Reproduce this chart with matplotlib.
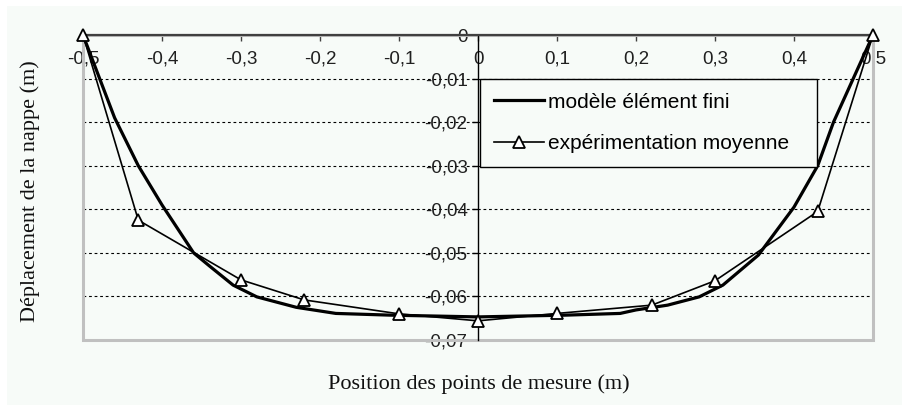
import matplotlib
matplotlib.use("Agg")
import matplotlib.pyplot as plt
from matplotlib.patches import Rectangle
from matplotlib.ticker import FuncFormatter, MultipleLocator

# ---- data ----
fe_x = [-0.5, -0.48, -0.46, -0.43, -0.40, -0.36, -0.34, -0.31, -0.28, -0.23, -0.18,
        -0.11, 0.0, 0.11, 0.18, 0.20, 0.24, 0.28, 0.31, 0.355, 0.40, 0.43, 0.45, 0.475, 0.5]
fe_y = [0.0, -0.0095, -0.019, -0.030, -0.039, -0.050, -0.053, -0.0574, -0.0601, -0.0625,
        -0.0639, -0.0643, -0.0647, -0.0643, -0.0639, -0.0631, -0.0620, -0.0601, -0.0574,
        -0.0505, -0.0395, -0.030, -0.020, -0.010, 0.0]

exp_x = [-0.5, -0.43, -0.30, -0.22, -0.10, 0.0, 0.10, 0.22, 0.30, 0.43, 0.5]
exp_y = [0.0, -0.0425, -0.0562, -0.0608, -0.0640, -0.0656, -0.0639, -0.0620, -0.0564, -0.0405, 0.0]

label_fe = "modèle élément fini"
label_exp = "expérimentation moyenne"
xlabel = "Position des points de mesure (m)"
ylabel = "Déplacement de la nappe (m)"

bg = "#f7fbf8"

fig = plt.figure(figsize=(9.02, 4.05), dpi=100, facecolor="white")
fig.patches.append(Rectangle((7/902, 0), 1 - 7/902, 1 - 6/405, transform=fig.transFigure,
                             facecolor=bg, edgecolor="none", zorder=-10))

ax = fig.add_axes([83/902, 1 - 340/405, 790/902, 305/405])
ax.set_facecolor(bg)
ax.set_xlim(-0.5, 0.5)
ax.set_ylim(-0.07, 0.0)

sans = "Liberation Sans"
serif = "Liberation Serif"

# grid
ax.xaxis.set_major_locator(MultipleLocator(0.1))
ax.yaxis.set_major_locator(MultipleLocator(0.01))
ax.yaxis.grid(True, color="black", linestyle=(0, (2.5, 2.5)), linewidth=0.8)
ax.set_axisbelow(True)

# border
ax.add_patch(Rectangle((0, 0), 1, 1, transform=ax.transAxes, fill=False,
                       edgecolor="#c0c0c0", linewidth=2.2, zorder=1.5, clip_on=False))

for s in ["top", "right"]:
    ax.spines[s].set_visible(False)
ax.spines["bottom"].set_position(("data", 0))
ax.spines["bottom"].set_color("#404040")
ax.spines["bottom"].set_linewidth(1.6)
ax.spines["bottom"].set_zorder(2.5)
ax.spines["left"].set_position(("data", 0))
ax.spines["left"].set_color("black")
ax.spines["left"].set_linewidth(1.0)

fmt = FuncFormatter(lambda v, p: ("%g" % round(v, 3)).replace(".", ",") if abs(v) > 1e-9 else "0")
ax.xaxis.set_major_formatter(fmt)
ax.yaxis.set_major_formatter(fmt)

ax.tick_params(axis="x", direction="out", length=4.5, width=1, color="#404040", pad=7,
               labelsize=13.5)
ax.tick_params(axis="y", direction="out", length=4.5, width=1, color="black", pad=3,
               labelsize=13.5)
for t in ax.get_xticklabels() + ax.get_yticklabels():
    t.set_fontfamily(sans)
    t.set_color("#202020")

# data
ax.plot(fe_x, fe_y, color="black", linewidth=2.3, label=label_fe, zorder=3)
ax.plot(exp_x, exp_y, color="black", linewidth=1.2, marker="^", markersize=9,
        markerfacecolor="white", markeredgecolor="black", markeredgewidth=1.3,
        label=label_exp, zorder=4, clip_on=False)

leg = ax.legend(loc="upper left",
                bbox_to_anchor=((480 - 83) / 790, 1 - (79 - 35) / 305 - 0.2885, 337 / 790, 0.2885),
                mode="expand", borderaxespad=0, frameon=True, fancybox=False,
                edgecolor="black", facecolor=bg, framealpha=1,
                prop={"family": sans, "size": 15},
                handlelength=2.4, handletextpad=0.2, labelspacing=1.1, borderpad=0.65)
leg.get_frame().set_linewidth(1.0)

fig.text(479/902, 1 - 384/405, xlabel, ha="center", va="center",
         fontfamily=serif, fontsize=16, color="#101010")
fig.text(30/902, 1 - 191/405, ylabel, ha="center", va="center", rotation=90,
         fontfamily=serif, fontsize=16, color="#101010")

fig.savefig("out.png", dpi=100, facecolor="white")
